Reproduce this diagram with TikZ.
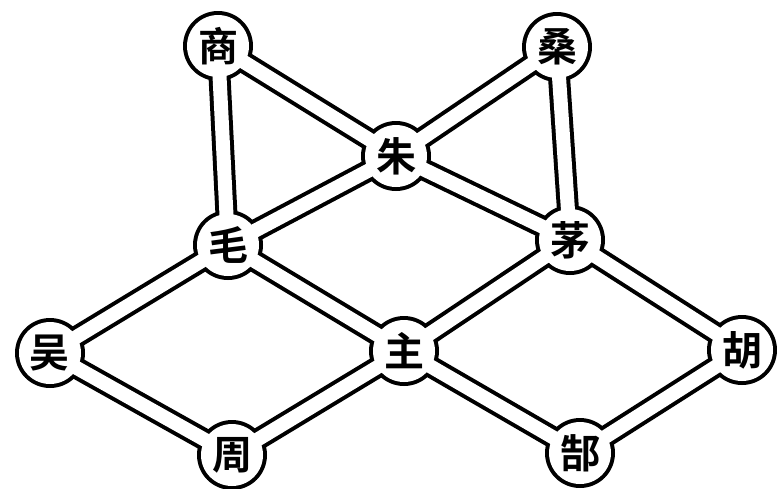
\documentclass[tikz,border=0pt]{standalone}
\usepackage{fontspec}
\newfontfamily\cjk{Noto Sans CJK SC Bold}

\tikzset{
  tubeout/.style={line width=22pt, color=black},
  tubein/.style={line width=14pt, color=white},
  ringout/.style={circle, fill=black, minimum size=70pt, inner sep=0pt},
  ringin/.style={circle, fill=white, minimum size=62pt, inner sep=0pt,
    font=\cjk\fontsize{40}{40}\selectfont},
}

\begin{document}
\begin{tikzpicture}[x=1pt,y=-1pt]
\useasboundingbox[fill=white] (0,0) rectangle (777,488);
% centres of the rings
\coordinate (shang) at (218,46);
\coordinate (sang)  at (557,47);
\coordinate (zhu)   at (396,156);
\coordinate (mao)   at (228,245);
\coordinate (maog)  at (570,240);
\coordinate (wu)    at (50,353);
\coordinate (zhuu)  at (404,351);
\coordinate (hu)    at (742,350);
\coordinate (zhou)  at (232,455);
\coordinate (gao)   at (580,453);
% outlines of the tubes and rings
\foreach \a/\b in {shang/zhu, shang/mao, sang/zhu, sang/maog, zhu/mao, zhu/maog,
  mao/wu, mao/zhuu, maog/zhuu, maog/hu, wu/zhou, zhuu/zhou, zhuu/gao, hu/gao}
  \draw[tubeout] (\a) -- (\b);
\foreach \n in {shang, sang, zhu, mao, maog, wu, zhuu, hu, zhou, gao}
  \node[ringout] (\n-o) at (\n) {};
% white inside
\foreach \a/\b in {shang/zhu, shang/mao, sang/zhu, sang/maog, zhu/mao, zhu/maog,
  mao/wu, mao/zhuu, maog/zhuu, maog/hu, wu/zhou, zhuu/zhou, zhuu/gao, hu/gao}
  \draw[tubein] (\a) -- (\b);
\node[ringin] (shang-i) at (shang) {商};
\node[ringin] (sang-i)  at (sang)  {桑};
\node[ringin] (zhu-i)   at (zhu)   {朱};
\node[ringin] (mao-i)   at (mao)   {毛};
\node[ringin] (maog-i)  at (maog)  {茅};
\node[ringin] (wu-i)    at (wu)    {吴};
\node[ringin] (zhuu-i)  at (zhuu)  {主};
\node[ringin] (hu-i)    at (hu)    {胡};
\node[ringin] (zhou-i)  at (zhou)  {周};
\node[ringin] (gao-i)   at (gao)   {郜};
\end{tikzpicture}
\end{document}
